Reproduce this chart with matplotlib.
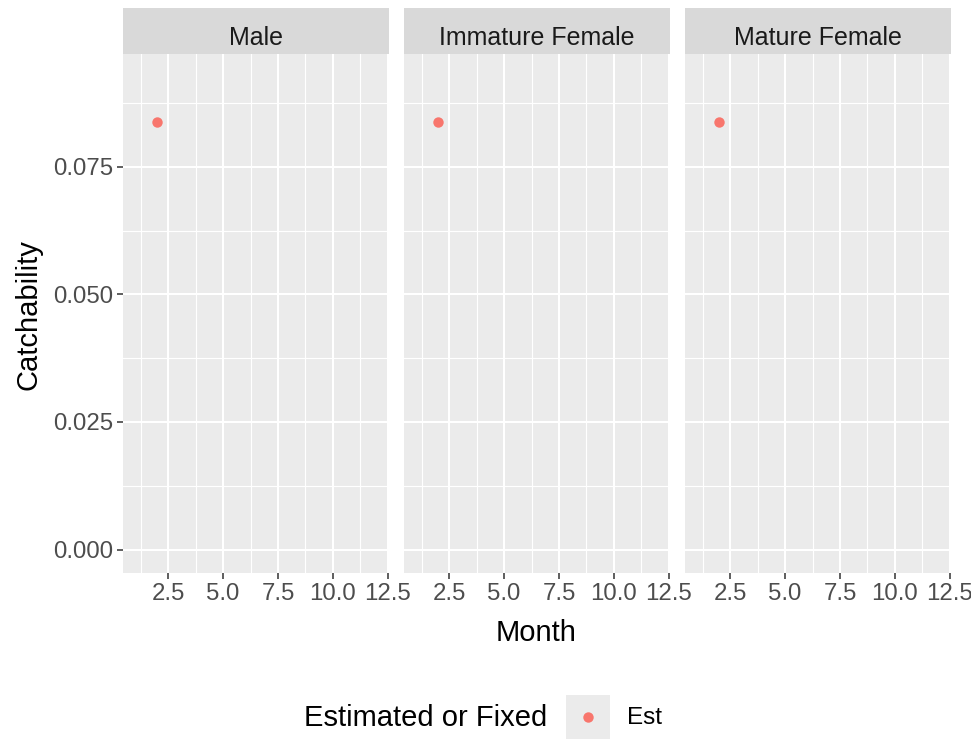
import numpy as np
import matplotlib
matplotlib.use("Agg")
import matplotlib.pyplot as plt
from matplotlib.ticker import MultipleLocator, FixedLocator

plt.rcParams['font.family'] = ['Liberation Sans', 'DejaVu Sans']

# data
panels = ['Male', 'Immature Female', 'Mature Female']
month = [2, 2, 2]
catchability = [0.0838, 0.0838, 0.0838]
est_type = ['Est', 'Est', 'Est']
x_ticks = [2.5, 5.0, 7.5, 10.0, 12.5]
y_ticks = [0.000, 0.025, 0.050, 0.075]

W, H = 971, 740
PANEL_BG = '#EBEBEB'
STRIP_BG = '#D9D9D9'
POINT_COL = '#F8766D'
TICK_COL = '#4D4D4D'

fig = plt.figure(figsize=(W / 100, H / 100), dpi=100)

def frac(x0, y0, x1, y1):
    # pixel box (top-left origin) -> figure fraction
    return [x0 / W, 1 - y1 / H, (x1 - x0) / W, (y1 - y0) / H]

lefts = [123, 404, 685]
pw = 266
top, bottom = 54, 573

for i, name in enumerate(panels):
    x0 = lefts[i]
    ax = fig.add_axes(frac(x0, top, x0 + pw, bottom))
    ax.set_facecolor(PANEL_BG)
    for s in ax.spines.values():
        s.set_visible(False)
    ax.set_xlim(0.45, 12.55)
    ax.set_ylim(-0.0046, 0.0971)
    ax.xaxis.set_major_locator(FixedLocator(x_ticks))
    ax.xaxis.set_minor_locator(MultipleLocator(1.25))
    ax.yaxis.set_major_locator(FixedLocator(y_ticks))
    ax.yaxis.set_minor_locator(MultipleLocator(0.0125))
    ax.set_xticklabels([f'{v:.1f}' for v in x_ticks])
    ax.grid(which='major', color='white', linewidth=1.5)
    ax.grid(which='minor', color='white', linewidth=0.8)
    ax.set_axisbelow(True)
    ax.tick_params(which='minor', length=0)
    ax.tick_params(which='major', length=4, width=1.1, color='#333333',
                   labelsize=17.3, labelcolor=TICK_COL, pad=3)
    if i == 0:
        ax.set_yticklabels([f'{v:.3f}' for v in y_ticks])
    else:
        ax.tick_params(axis='y', which='both', left=False, labelleft=False)

    xs = [m for m, p in zip(month, panels) if p == name]
    ys = [c for c, p in zip(catchability, panels) if p == name]
    ax.plot(xs, ys, 'o', color=POINT_COL, markersize=7.5, markeredgewidth=0)

    # facet strip
    sax = fig.add_axes(frac(x0, 8, x0 + pw, top))
    sax.set_facecolor(STRIP_BG)
    sax.set_xticks([])
    sax.set_yticks([])
    for s in sax.spines.values():
        s.set_visible(False)
    sax.text(0.5, 9 / 46, name, ha='center', va='baseline', fontsize=18,
             color='#1A1A1A', transform=sax.transAxes)

fig.text(536.5 / W, 1 - 633 / H, 'Month', ha='center', va='center',
         fontsize=21, color='black')
fig.text(28 / W, 1 - 315 / H, 'Catchability', ha='center', va='center',
         rotation=90, fontsize=21, color='black')

# legend
fig.text(304 / W, 1 - 718 / H, 'Estimated or Fixed', ha='left', va='center',
         fontsize=21, color='black')
kax = fig.add_axes(frac(566, 695, 610, 739))
kax.set_facecolor(PANEL_BG)
kax.set_xticks([])
kax.set_yticks([])
for s in kax.spines.values():
    s.set_visible(False)
kax.set_xlim(0, 1)
kax.set_ylim(0, 1)
kax.plot([0.5], [0.5], 'o', color=POINT_COL, markersize=7.5, markeredgewidth=0)
fig.text(627 / W, 1 - 718 / H, est_type[0], ha='left', va='center',
         fontsize=17.5, color='black')

fig.savefig('out.png', dpi=100, facecolor='white')
